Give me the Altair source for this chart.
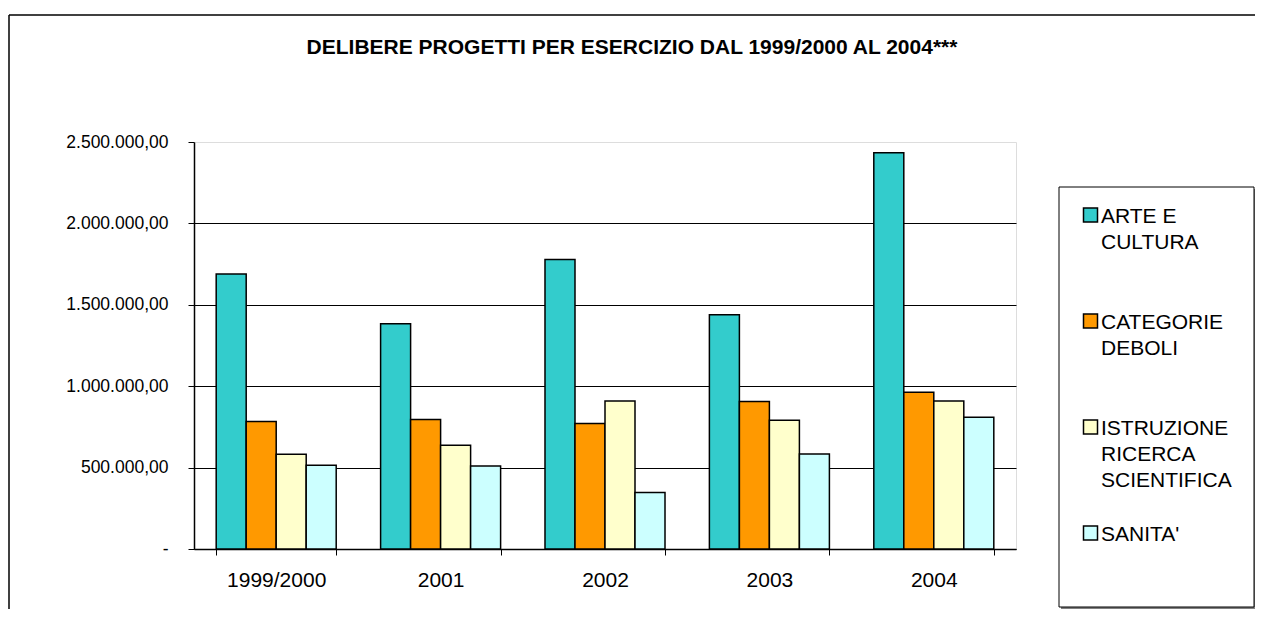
import json
import altair as alt
import pandas as pd

# ---------------- data ----------------
YEARS = ["1999/2000", "2001", "2002", "2003", "2004"]
SERIES = ["ARTE E CULTURA", "CATEGORIE DEBOLI", "ISTRUZIONE RICERCA SCIENTIFICA", "SANITA'"]
ARTE_E_CULTURA = [1688500, 1383200, 1778700, 1438500, 2434400]
CATEGORIE_DEBOLI = [782800, 795100, 770500, 905700, 963100]
ISTRUZIONE_RICERCA = [582000, 637300, 909800, 791000, 909800]
SANITA = [514300, 510200, 346300, 584000, 809400]
LEGEND_LINES = [["ARTE E", "CULTURA", ""], ["CATEGORIE", "DEBOLI", ""],
                ["ISTRUZIONE", "RICERCA", "SCIENTIFICA"], ["SANITA'", "", ""]]
Y_TICKS = [0, 500000, 1000000, 1500000, 2000000, 2500000]
COLORS = ["#33CCCC", "#FF9900", "#FFFFCC", "#CCFFFF"]
TITLE = "DELIBERE PROGETTI PER ESERCIZIO DAL 1999/2000 AL 2004***"

values = [ARTE_E_CULTURA, CATEGORIE_DEBOLI, ISTRUZIONE_RICERCA, SANITA]
rows = []
for s, vals in zip(SERIES, values):
    for y, v in zip(YEARS, vals):
        rows.append({"anno": y, "serie": s, "valore": v})
df = pd.DataFrame(rows)

FONT = "Liberation Sans"

# legend label expression (multi-line)
expr = ""
for s, lines in zip(SERIES, LEGEND_LINES):
    expr += f"datum.label == {json.dumps(s)} ? {json.dumps(lines)} : "
expr += "datum.label"

ylabel = ("datum.value == 0 ? '-' : replace(join(split(join(split("
          "format(datum.value, ',.2f'), '.'), '#'), ','), '.'), '#', ',')")

W, H = 822, 407

bars = alt.Chart(df).mark_bar(stroke="black", strokeWidth=1.5).encode(
    x=alt.X("anno:N", sort=YEARS, title=None,
            scale=alt.Scale(paddingInner=0.27, paddingOuter=0.135),
            axis=alt.Axis(labelAngle=0, labelFont=FONT, labelFontSize=21, labelColor="black",
                          labelPadding=14, tickBand="extent", tickSize=6, tickColor="black",
                          tickWidth=1, domainColor="black", domainWidth=1.5)),
    xOffset=alt.XOffset("serie:N", sort=SERIES,
                        scale=alt.Scale(paddingInner=0, paddingOuter=0)),
    y=alt.Y("valore:Q", title=None,
            scale=alt.Scale(domain=[0, 2500000], nice=False),
            axis=alt.Axis(values=Y_TICKS, labelExpr=ylabel, labelFont=FONT, labelFontSize=17.5,
                          labelColor="black", labelPadding=20, tickSize=6, tickColor="black",
                          domainColor="black", domainWidth=1.5, grid=True, gridColor="black",
                          gridWidth=1,
                          gridOpacity=alt.condition("datum.value >= 2500000", alt.value(0), alt.value(1)))),
    color=alt.Color("serie:N", sort=SERIES,
                    scale=alt.Scale(domain=SERIES, range=COLORS),
                    legend=alt.Legend(orient="none", legendX=886, legendY=70, title=None,
                                      symbolType="M-1,-2.07H1V-0.07H-1Z", symbolSize=196,
                                      symbolStrokeColor="black", symbolStrokeWidth=1.5,
                                      labelFont=FONT, labelFontSize=21, labelColor="black",
                                      labelBaseline="alphabetic", labelOffset=0, labelLimit=300,
                                      labelExpr=expr, rowPadding=32, padding=0)),
)

one = alt.Data(values=[{"k": 1}])
frame_top = alt.Chart(one).mark_rule(color="black", strokeWidth=1.5).encode(
    x=alt.value(-185), x2=alt.value(1070), y=alt.value(-127))
frame_left = alt.Chart(one).mark_rule(color="black", strokeWidth=1.5).encode(
    x=alt.value(-185), y=alt.value(-127), y2=alt.value(480))
box_shadow = alt.Chart(one).mark_rect(fill="#808080").encode(
    x=alt.value(867), x2=alt.value(1062), y=alt.value(47), y2=alt.value(467))
box = alt.Chart(one).mark_rect(fill="white", stroke="black", strokeWidth=1).encode(
    x=alt.value(865), x2=alt.value(1060), y=alt.value(45), y2=alt.value(465))

chart = alt.layer(frame_top, frame_left, box_shadow, box, bars).properties(
    width=W, height=H,
    title=alt.TitleParams(TITLE, font=FONT, fontSize=21, fontWeight="bold", color="black",
                          anchor="middle", dx=27, offset=-44),
    autosize=alt.AutoSizeParams(type="none"),
    padding={"left": 186, "top": 134, "right": 239, "bottom": 60},
).configure_view(stroke="#808080", strokeWidth=2).configure(
    background="white", style={"guide-label": {"lineHeight": 26}})

chart.save("out.html", embed_options={"renderer": "svg", "actions": False})
